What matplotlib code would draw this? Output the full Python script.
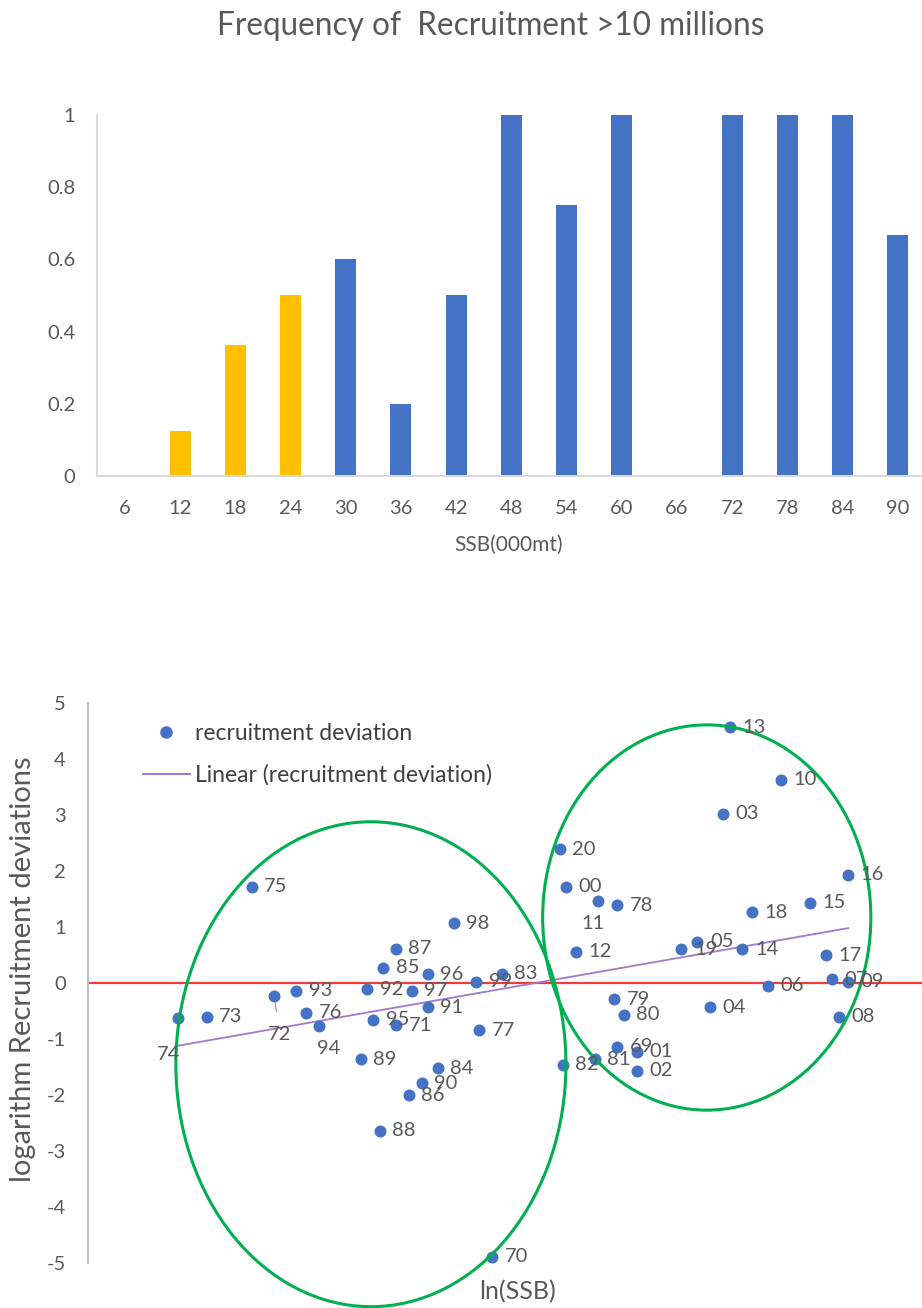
import numpy as np
import matplotlib.pyplot as plt
from matplotlib.patches import Ellipse
from matplotlib.lines import Line2D

plt.rcParams['font.family'] = ['Lato', 'DejaVu Sans']
plt.rcParams['axes.unicode_minus'] = False

# frequency of recruitment > 10 millions by SSB bin
ssb_bins = [6, 12, 18, 24, 30, 36, 42, 48, 54, 60, 66, 72, 78, 84, 90]
freq = [0, 0.125, 0.364, 0.5, 0.6, 0.2, 0.5, 1, 0.75, 1, 0, 1, 1, 1, 0.667]

# log recruitment deviations against ln(SSB), by year class
years = ['69', '70', '71', '72', '73', '74', '75', '76', '77', '78',
         '79', '80', '81', '82', '83', '84', '85', '86', '87', '88',
         '89', '90', '91', '92', '93', '94', '95', '96', '97', '98',
         '99', '00', '01', '02', '03', '04', '05', '06', '07', '08',
         '09', '10', '11', '12', '13', '14', '15', '16', '17', '18',
         '19', '20']
ln_ssb = [3.65, 3.26, 2.96, 2.58, 2.37, 2.28, 2.51, 2.68, 3.22, 3.65,
          3.64, 3.67, 3.58, 3.48, 3.29, 3.09, 2.92, 3.00, 2.96, 2.91,
          2.85, 3.04, 3.06, 2.87, 2.65, 2.72, 2.89, 3.06, 3.01, 3.14,
          3.21, 3.49, 3.71, 3.71, 3.98, 3.94, 3.90, 4.12, 4.32, 4.34,
          4.37, 4.16, 3.59, 3.52, 4.00, 4.04, 4.25, 4.37, 4.30, 4.07,
          3.85, 3.47]
rec_dev = [-1.14, -4.89, -0.75, -0.23, -0.60, -0.63, 1.72, -0.53, -0.84, 1.39,
           -0.29, -0.57, -1.36, -1.46, 0.17, -1.52, 0.27, -2.00, 0.61, -2.64,
           -1.36, -1.79, -0.43, -0.11, -0.14, -0.77, -0.66, 0.16, -0.14, 1.07,
           0.02, 1.72, -1.23, -1.57, 3.02, -0.43, 0.74, -0.05, 0.07, -0.60,
           0.02, 3.63, 1.46, 0.56, 4.57, 0.60, 1.43, 1.93, 0.50, 1.26,
           0.60, 2.39]

grey = '#595959'
blue = '#4472C4'
gold = '#FFC000'

fig = plt.figure(figsize=(9.22, 13.08), dpi=100)

# ---- top: bar chart
ax1 = fig.add_axes([0.1056, 0.6361, 0.898, 0.276])
pos = np.arange(len(ssb_bins))
cols = [gold if b <= 24 else blue for b in ssb_bins]
ax1.bar(pos, freq, width=0.38, color=cols)
ax1.set_xlim(-0.5, len(ssb_bins) - 0.5)
ax1.set_ylim(0, 1)
ax1.set_xticks(pos)
ax1.set_xticklabels([str(b) for b in ssb_bins])
ax1.set_yticks([0, 0.2, 0.4, 0.6, 0.8, 1])
ax1.set_yticklabels(['0', '0.2', '0.4', '0.6', '0.8', '1'])
ax1.tick_params(axis='both', length=0, colors=grey, labelsize=14.5)
ax1.tick_params(axis='y', pad=16)
ax1.tick_params(axis='x', pad=17)
for s in ['top', 'right']:
    ax1.spines[s].set_visible(False)
for s in ['left', 'bottom']:
    ax1.spines[s].set_color('#D9D9D9')
    ax1.spines[s].set_linewidth(1.5)

fig.text(491 / 922, 1 - 26 / 1308, 'Frequency of  Recruitment >10 millions',
         ha='center', va='center', fontsize=22.7, color=grey)
fig.text(509 / 922, 1 - 545 / 1308, 'SSB(000mt)', ha='center', va='center',
         fontsize=15, color=grey)

# ---- bottom: scatter with trend line
ax2 = fig.add_axes([0.0954, 0.0344, 0.9046, 0.4281])
ax2.set_xlim(2.0, 4.6)
ax2.set_ylim(-5, 5)
ax2.set_xticks([])
ax2.set_yticks(range(-5, 6))
ax2.tick_params(axis='y', length=0, colors=grey, labelsize=14.5, pad=16)
for s in ['top', 'right', 'bottom']:
    ax2.spines[s].set_visible(False)
ax2.spines['left'].set_color('#BFBFBF')
ax2.spines['left'].set_linewidth(1.5)

ax2.axhline(0, color='#EE3B3B', lw=1.6, zorder=1)

x = np.array(ln_ssb)
y = np.array(rec_dev)
ax2.scatter(x, y, s=58, color=blue, zorder=3)

k, b = np.polyfit(x, y, 1)
xs = np.array([x.min(), x.max()])
ax2.plot(xs, k * xs + b, color='#9E7BCB', lw=1.3, zorder=2)

# year labels; a few are moved off the crowded spots
special = {'74': (-6.3, -26.4), '72': (4.3, -28), '94': (7, -16), '11': (-3.6, -16)}
for yr, xi, yi in zip(years, x, y):
    if yr in special:
        arrow = None
        if yr == '72':
            arrow = dict(arrowstyle='-', color='#7F7F7F', lw=0.7, shrinkA=9, shrinkB=4)
        ax2.annotate(yr, (xi, yi), xytext=special[yr], textcoords='offset points',
                     ha='center', va='center', fontsize=14.5, color=grey,
                     arrowprops=arrow, zorder=5)
    else:
        ax2.annotate(yr, (xi, yi), xytext=(9, 0), textcoords='offset points',
                     ha='left', va='center', fontsize=14.5, color=grey, zorder=5)

# the two groups
ax2.add_patch(Ellipse((2.882, -1.45), 1.216, 8.66, fill=False, ec='#00B050',
                      lw=2.2, zorder=4, clip_on=False))
ax2.add_patch(Ellipse((3.929, 1.17), 1.023, 6.88, fill=False, ec='#00B050',
                      lw=2.2, zorder=4, clip_on=False))

handles = [Line2D([], [], marker='o', ls='none', color=blue, markersize=8),
           Line2D([], [], color='#9E7BCB', lw=1.5)]
ax2.legend(handles, ['recruitment deviation', 'Linear (recruitment deviation)'],
           loc='upper left', bbox_to_anchor=(0.066, 0.965), frameon=False,
           fontsize=16.5, handlelength=2.05, handletextpad=0.22, labelspacing=0.9,
           borderpad=0, borderaxespad=0, labelcolor='#404040')

fig.text(23 / 922, 1 - 969 / 1308, 'logarithm Recruitment deviations',
         rotation=90, ha='center', va='center', fontsize=21, color=grey)
fig.text(517 / 922, 1 - 1292 / 1308, 'ln(SSB)', ha='center', va='center',
         fontsize=18, color=grey)

fig.savefig('out.png', dpi=100)
